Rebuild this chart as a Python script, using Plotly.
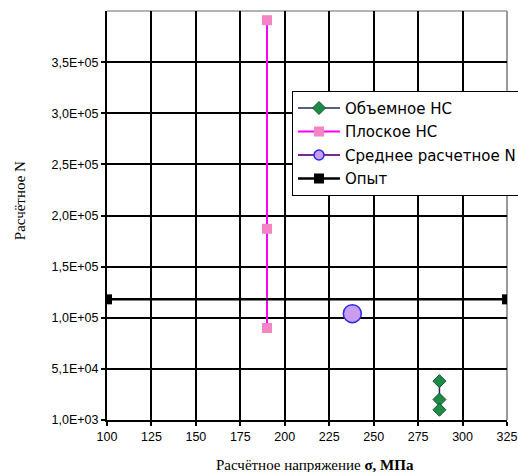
import plotly.graph_objects as go

# Data
vol_x = [287, 287, 287]
vol_y = [39000, 21000, 11000]
flat_x = [190, 190, 190]
flat_y = [392000, 188000, 91000]
mean_x = [238]
mean_y = [105000]
exp_x = [100, 325]
exp_y = [119000, 119000]

x_ticks = [100, 125, 150, 175, 200, 225, 250, 275, 300, 325]
y_tickvals = [1000, 51000, 101000, 151000, 201000, 251000, 301000, 351000]
y_ticktext = ["1,0E+03", "5,1E+04", "1,0E+05", "1,5E+05", "2,0E+05", "2,5E+05", "3,0E+05", "3,5E+05"]

mean_fill = "#c89cf0"
mean_edge = "#2a2ae0"

fig = go.Figure()
fig.add_trace(go.Scatter(
    x=vol_x, y=vol_y, mode="lines+markers", name="Объемное НС", legendgroup="a",
    line=dict(color="#1c2a66", width=1.5),
    marker=dict(symbol="diamond", size=10, color="#1f8a45", line=dict(color="#11552a", width=1)),
))
fig.add_trace(go.Scatter(
    x=flat_x, y=flat_y, mode="lines+markers", name="Плоское НС", legendgroup="b",
    line=dict(color="#ff00ff", width=2),
    marker=dict(symbol="square", size=10, color="#f484c4", line=dict(width=0)),
))
fig.add_trace(go.Scatter(
    x=mean_x, y=mean_y, mode="markers", name="Среднее расчетное N", legendgroup="c",
    showlegend=False,
    marker=dict(symbol="circle", size=18, color=mean_fill, line=dict(color=mean_edge, width=1.5)),
))
# legend entry for the mean series (smaller symbol as in the reference legend)
fig.add_trace(go.Scatter(
    x=[None], y=[None], mode="lines+markers", name="Среднее расчетное N", legendgroup="c",
    line=dict(color="#7a2a8a", width=2),
    marker=dict(symbol="circle", size=10, color=mean_fill, line=dict(color=mean_edge, width=1.5)),
))
fig.add_trace(go.Scatter(
    x=exp_x, y=exp_y, mode="lines+markers", name="Опыт", legendgroup="d",
    line=dict(color="#000000", width=2.5),
    marker=dict(symbol="square", size=10, color="#000000"),
))

tick_font = dict(family="Liberation Sans, Arial", size=12.5, color="#000")

fig.update_layout(
    width=518, height=472,
    margin=dict(l=107, r=11, t=11, b=52, autoexpand=False),
    paper_bgcolor="white", plot_bgcolor="white",
    showlegend=True,
    legend=dict(
        x=0.4625, y=0.805, xanchor="left", yanchor="top",
        bgcolor="white", bordercolor="#000", borderwidth=1,
        font=dict(family="DejaVu Sans", size=15, color="#000"),
        tracegroupgap=1, traceorder="grouped", itemwidth=42,
    ),
    xaxis=dict(
        range=[100, 325], tickvals=x_ticks, ticktext=[str(v) for v in x_ticks],
        showgrid=True, gridcolor="#000", gridwidth=2,
        showline=True, linecolor="#000", linewidth=2,
        ticks="outside", ticklen=4, tickcolor="#000", tickwidth=2,
        tickfont=tick_font, zeroline=False, automargin=False,
    ),
    yaxis=dict(
        range=[1000, 401000], tickvals=y_tickvals, ticktext=y_ticktext,
        showgrid=True, gridcolor="#000", gridwidth=2,
        showline=True, linecolor="#000", linewidth=2,
        ticks="outside", ticklen=4, tickcolor="#000", tickwidth=2,
        tickfont=tick_font, zeroline=False, automargin=False,
    ),
    shapes=[
        dict(type="line", xref="paper", yref="paper", x0=1, x1=1, y0=0, y1=1,
             line=dict(color="#9a9a9a", width=2), layer="between"),
        dict(type="line", xref="paper", yref="paper", x0=0, x1=1, y0=1, y1=1,
             line=dict(color="#9a9a9a", width=1.5), layer="between"),
    ],
    annotations=[
        dict(text="Расчётное напряжение <b>σ, МПа</b>", xref="paper", yref="paper",
             x=0.52, y=-0.11, xanchor="center", yanchor="middle", showarrow=False,
             font=dict(family="Liberation Serif, Times New Roman", size=15, color="#000")),
        dict(text="Расчётное N", xref="paper", yref="paper", textangle=-90,
             x=-0.2175, y=0.535, xanchor="center", yanchor="middle", showarrow=False,
             font=dict(family="Liberation Serif, Times New Roman", size=15, color="#000")),
    ],
)

fig.write_html("out.html", config={"displayModeBar": False},
               post_script="document.body.style.margin='0';document.body.style.overflow='hidden';")
